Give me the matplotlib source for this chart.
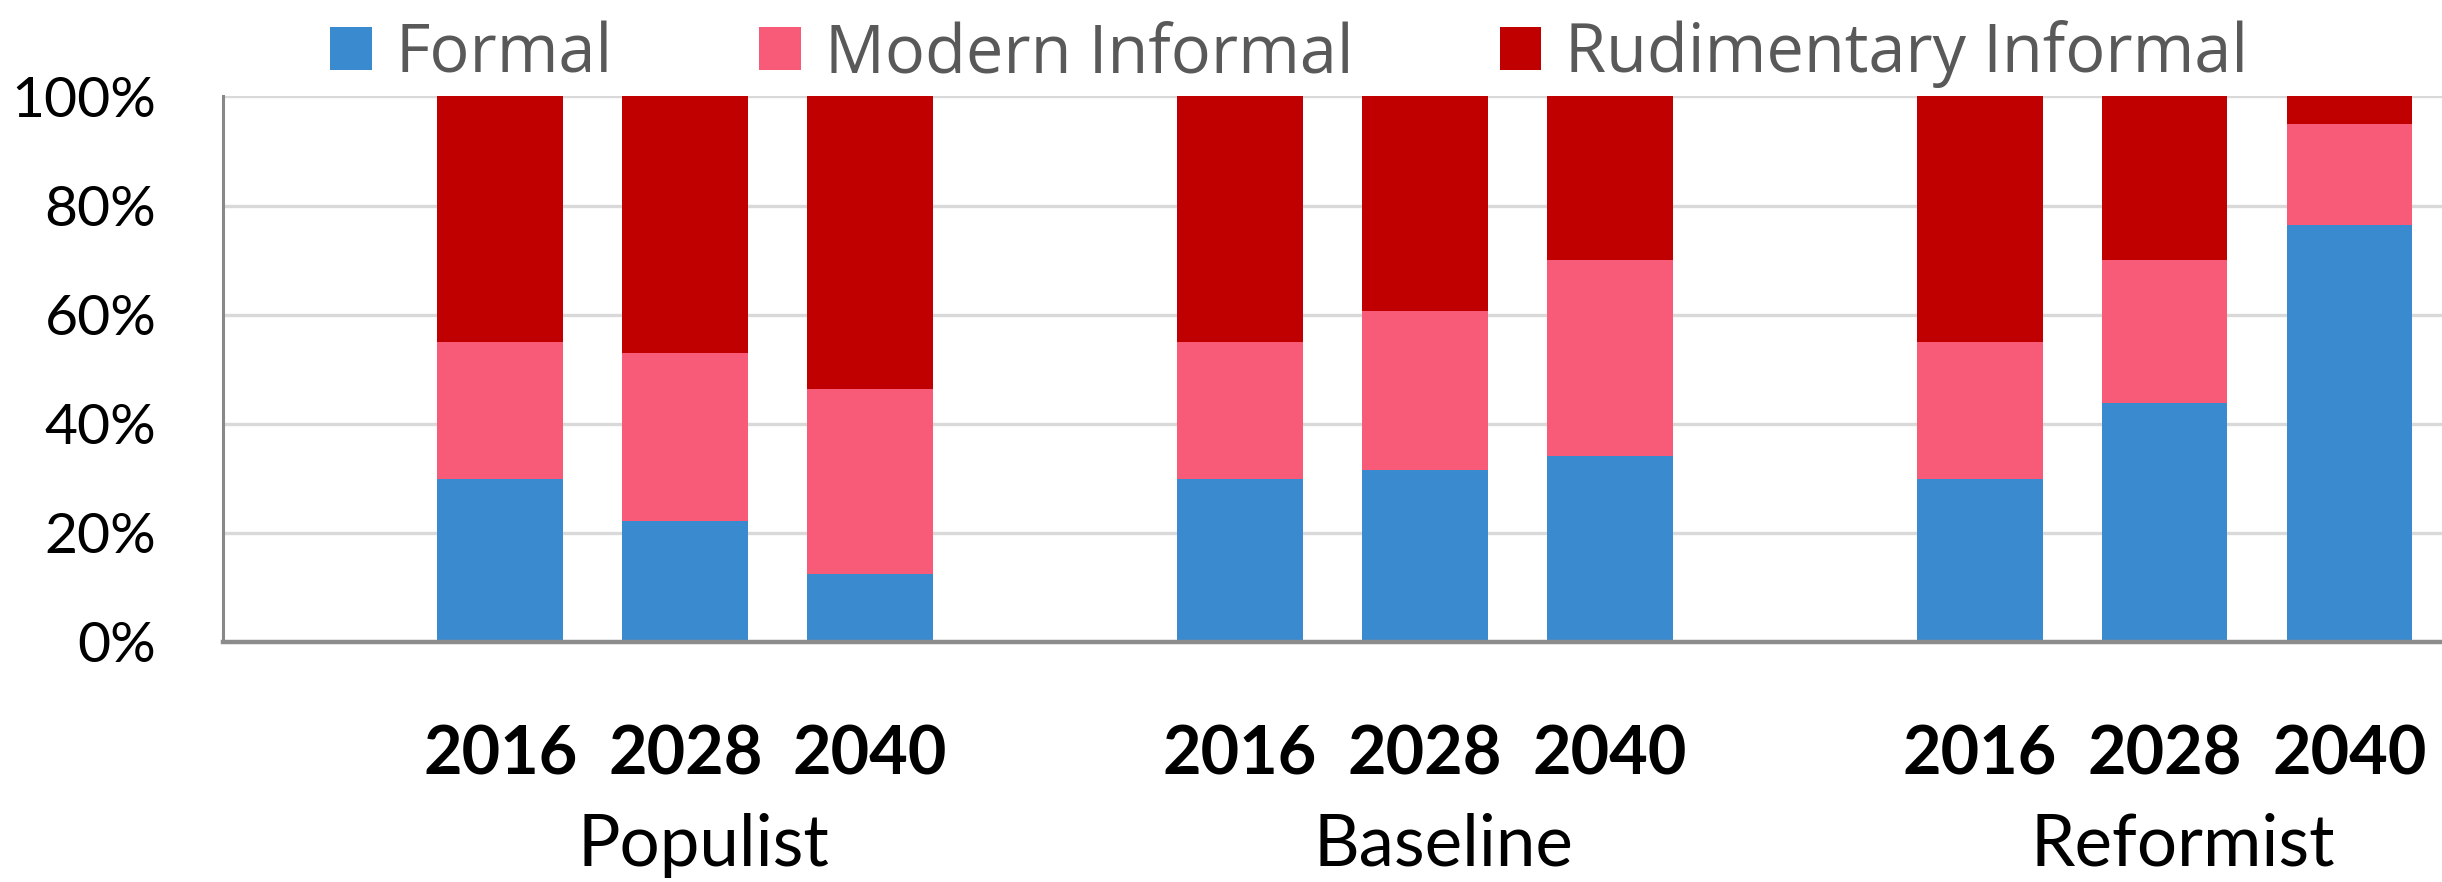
import matplotlib.pyplot as plt
import numpy as np

# values (percent of total)
scenarios = ["Populist", "Baseline", "Reformist"]
years = ["2016", "2028", "2040"]
formal = [29.8, 22.1, 12.4, 29.8, 31.4, 34.0, 29.8, 43.7, 76.5]
modern = [25.2, 30.9, 33.9, 25.2, 29.2, 36.0, 25.2, 26.3, 18.4]
rudimentary = [45.0, 47.0, 53.7, 45.0, 39.4, 30.0, 45.0, 30.0, 5.1]
series_names = ["Formal", "Modern Informal", "Rudimentary Informal"]
colors = ["#3A8ACF", "#F85B77", "#C00000"]

# 12 category slots: an empty one before each group of three years
pos = np.array([i * 4 + 1 + j for i in range(len(scenarios)) for j in range(len(years))])

plt.rcParams["font.family"] = ["Lato", "DejaVu Sans"]

fig = plt.figure(figsize=(24.42, 8.82), dpi=100)
ax = fig.add_axes([0.0913, 0.2726, 0.9087, 0.618])

bottom = np.zeros(len(pos))
for vals, name, c in zip([formal, modern, rudimentary], series_names, colors):
    ax.bar(pos, vals, bottom=bottom, width=0.68, color=c, label=name, zorder=3)
    bottom += np.array(vals)

ax.set_xlim(-0.5, 11.5)
ax.set_ylim(0, 100)
ax.set_yticks(np.arange(0, 101, 20))
ax.set_yticklabels([f"{v}%" for v in range(0, 101, 20)], fontsize=41)
ax.tick_params(axis="y", length=0, pad=48)
ax.set_xticks([])

ax.grid(axis="y", color="#D9D9D9", linewidth=2.4, zorder=0)
for s in ["top", "right"]:
    ax.spines[s].set_visible(False)
ax.spines["left"].set_color("#888888")
ax.spines["left"].set_linewidth(2.2)
ax.spines["bottom"].set_color("#8C8C8C")
ax.spines["bottom"].set_linewidth(3.2)
ax.spines["left"].set_zorder(4)
ax.spines["bottom"].set_zorder(4)

trans = ax.get_xaxis_transform()
for p, y in zip(pos, years * len(scenarios)):
    ax.text(p, -0.243, y, transform=trans, ha="center", va="baseline",
            fontsize=48, fontweight="bold", clip_on=False)
for i, name in enumerate(scenarios):
    ax.text(i * 4 + 2.1, -0.4113, name, transform=trans, ha="center",
            va="baseline", fontsize=51, clip_on=False)

leg = fig.legend(loc="upper center", bbox_to_anchor=(0.528, 1.045), ncol=3,
                 frameon=False, handlelength=0.62, handleheight=0.62,
                 handletextpad=0.36, columnspacing=2.2,
                 prop={"family": ["Open Sans", "DejaVu Sans"], "size": 48})
for t in leg.get_texts():
    t.set_color("#595959")

fig.savefig("out.png", dpi=100)
